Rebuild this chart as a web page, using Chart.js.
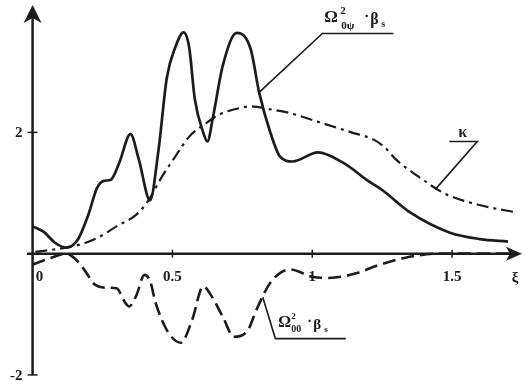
<!DOCTYPE html>
<html>
<head>
<meta charset="utf-8">
<script src="https://cdn.jsdelivr.net/npm/chart.js@4/dist/chart.umd.min.js"></script>
<style>
  body { margin: 0; background: #fff; }
  #wrap { width: 525px; height: 381px; }
</style>
</head>
<body>
<div id="wrap"><canvas id="plot"></canvas></div>
<script>
// solid curve: Omega^2_0psi * beta_s
var xiPsi = [0, 0.04, 0.08, 0.12, 0.16, 0.2, 0.23, 0.255, 0.28, 0.31, 0.35, 0.38, 0.42, 0.45, 0.48, 0.51, 0.54, 0.56, 0.58, 0.61, 0.625, 0.645, 0.68, 0.73, 0.78, 0.81, 0.85, 0.885, 0.93, 1.02, 1.11, 1.2, 1.25, 1.35, 1.49, 1.6, 1.7];
var omegaPsi = [0.45, 0.36, 0.18, 0.1, 0.22, 0.65, 1.08, 1.2, 1.22, 1.5, 1.97, 1.55, 0.88, 1.7, 2.9, 3.4, 3.65, 3.4, 2.55, 2.0, 1.85, 2.25, 3.1, 3.64, 3.37, 2.66, 2.0, 1.6, 1.52, 1.67, 1.5, 1.2, 1.05, 0.68, 0.35, 0.24, 0.2];

// dash-dot curve: kappa
var xiKappa = [0.01, 0.12, 0.19, 0.24, 0.3, 0.37, 0.41, 0.46, 0.51, 0.56, 0.62, 0.67, 0.74, 0.78, 0.85, 0.91, 1.03, 1.14, 1.22, 1.26, 1.3, 1.38, 1.47, 1.59, 1.73];
var kappa = [0.03, 0.1, 0.18, 0.28, 0.45, 0.64, 0.85, 1.25, 1.6, 1.93, 2.15, 2.3, 2.4, 2.43, 2.38, 2.33, 2.16, 2.0, 1.88, 1.75, 1.55, 1.27, 1.0, 0.81, 0.68];

// dashed curve: Omega^2_00 * beta_s
var xiZero = [0, 0.06, 0.12, 0.16, 0.19, 0.22, 0.26, 0.3, 0.33, 0.345, 0.37, 0.4, 0.42, 0.44, 0.48, 0.53, 0.57, 0.61, 0.64, 0.68, 0.72, 0.77, 0.8, 0.85, 0.92, 1.0, 1.06, 1.16, 1.23, 1.33, 1.45, 1.72];
var omegaZero = [-0.18, -0.08, 0.0, -0.12, -0.3, -0.5, -0.56, -0.57, -0.8, -0.87, -0.7, -0.35, -0.45, -0.81, -1.26, -1.47, -1.1, -0.54, -0.7, -1.04, -1.37, -1.26, -0.93, -0.48, -0.26, -0.38, -0.4, -0.32, -0.2, -0.07, 0.0, 0.0];

var xTicks = [0, 0.5, 1, 1.5];
var xTickLabels = ['0', '0.5', '1', '1.5'];
var yTicks = [2, -2];
var yTickLabels = ['2', '-2'];

var ink = '#1c1c1c';

function pts(xs, ys) {
    return xs.map(function (x, i) { return { x: x, y: ys[i] }; });
}

function drawPieces(ctx, x, y, pieces) {
    // pieces: [text, size, dx, dy]
    pieces.forEach(function (p) {
        ctx.font = 'bold ' + p[1] + 'px "Liberation Serif", serif';
        ctx.fillText(p[0], x + p[2], y + p[3]);
    });
}

var axesPlugin = {
    id: 'axesPlugin',
    beforeDatasetsDraw: function (chart) {
        var ctx = chart.ctx;
        var xs = chart.scales.x, ys = chart.scales.y;
        var x0 = xs.getPixelForValue(0), y0 = ys.getPixelForValue(0);
        var xEnd = xs.getPixelForValue(1.75);
        var yTop = ys.getPixelForValue(4.1);
        ctx.save();
        ctx.strokeStyle = ink;
        ctx.fillStyle = ink;
        ctx.lineWidth = 2.5;
        // x axis
        ctx.beginPath();
        ctx.moveTo(xs.getPixelForValue(-0.02), y0);
        ctx.lineTo(xEnd - 6, y0);
        ctx.stroke();
        ctx.beginPath();
        ctx.moveTo(xEnd, y0);
        ctx.lineTo(xEnd - 16, y0 - 7);
        ctx.lineTo(xEnd - 12, y0);
        ctx.lineTo(xEnd - 16, y0 + 7);
        ctx.closePath();
        ctx.fill();
        // y axis
        ctx.beginPath();
        ctx.moveTo(x0, ys.getPixelForValue(-2));
        ctx.lineTo(x0, yTop + 8);
        ctx.stroke();
        ctx.beginPath();
        ctx.moveTo(x0, yTop);
        ctx.lineTo(x0 - 9, yTop + 18);
        ctx.lineTo(x0, yTop + 13);
        ctx.lineTo(x0 + 9, yTop + 18);
        ctx.closePath();
        ctx.fill();
        // ticks
        ctx.lineWidth = 1.5;
        xTicks.forEach(function (v) {
            if (v === 0) return;
            var px = xs.getPixelForValue(v);
            ctx.beginPath();
            ctx.moveTo(px, y0 - 4);
            ctx.lineTo(px, y0 + 4);
            ctx.stroke();
        });
        yTicks.forEach(function (v) {
            var py = ys.getPixelForValue(v);
            ctx.beginPath();
            ctx.moveTo(x0 - 5, py);
            ctx.lineTo(x0 + 5, py);
            ctx.stroke();
        });
        // tick labels
        ctx.font = 'bold 15px "Liberation Serif", serif';
        ctx.textBaseline = 'middle';
        ctx.textAlign = 'center';
        xTicks.forEach(function (v, i) {
            var px = xs.getPixelForValue(v);
            if (v === 0) px += 7;
            ctx.fillText(xTickLabels[i], px, y0 + 23);
        });
        ctx.fillText('\u03BE', xEnd - 7, y0 + 24);
        ctx.textAlign = 'right';
        yTicks.forEach(function (v, i) {
            ctx.fillText(yTickLabels[i], x0 - 10, ys.getPixelForValue(v) + 1);
        });
        ctx.restore();
    },
    afterDatasetsDraw: function (chart) {
        var ctx = chart.ctx;
        var xs = chart.scales.x, ys = chart.scales.y;
        function P(x, y) { return [xs.getPixelForValue(x), ys.getPixelForValue(y)]; }
        ctx.save();
        ctx.strokeStyle = ink;
        ctx.fillStyle = ink;
        ctx.lineWidth = 1.6;
        ctx.textBaseline = 'alphabetic';
        ctx.textAlign = 'left';

        // leader for Omega^2_0psi
        var a = P(0.81, 2.66), b = P(1.036, 3.63), c = P(1.29, 3.63);
        ctx.beginPath();
        ctx.moveTo(a[0], a[1]); ctx.lineTo(b[0], b[1]); ctx.lineTo(c[0], c[1]);
        ctx.stroke();
        drawPieces(ctx, b[0] + 2, b[1] - 12, [
            ['\u03A9', 17, 0, 0], ['2', 11, 16, -8], ['0\u03C8', 11, 17, 7],
            ['\u00B7', 15, 40, -1], ['\u03B2', 16, 46, 2], ['s', 10, 57, 5]
        ]);

        // leader for kappa
        var k1 = P(1.44, 1.06), k2 = P(1.59, 1.85), k3 = P(1.49, 1.85);
        ctx.beginPath();
        ctx.moveTo(k1[0], k1[1]); ctx.lineTo(k2[0], k2[1]); ctx.lineTo(k3[0], k3[1]);
        ctx.stroke();
        ctx.font = 'bold 16px "Liberation Serif", serif';
        ctx.fillText('\u03BA', k3[0] + 9, k3[1] - 4);

        // leader for Omega^2_00
        var d = P(0.823, -0.72), e = P(0.868, -1.4), f = P(1.12, -1.4);
        ctx.beginPath();
        ctx.moveTo(d[0], d[1]); ctx.lineTo(e[0], e[1]); ctx.lineTo(f[0], f[1]);
        ctx.stroke();
        drawPieces(ctx, e[0] + 3, e[1] - 12, [
            ['\u03A9', 16, 0, 0], ['2', 9, 13, -8], ['00', 10, 13, 5],
            ['\u00B7', 14, 29, -1], ['\u03B2', 15, 35, 2], ['s', 9, 46, 5]
        ]);
        ctx.restore();
    }
};

new Chart(document.getElementById('plot'), {
    type: 'line',
    data: {
        datasets: [{
            label: 'psi',
            data: pts(xiPsi, omegaPsi),
            borderColor: ink,
            borderWidth: 2.7,
            cubicInterpolationMode: 'monotone'
        }, {
            label: 'kappa',
            data: pts(xiKappa, kappa),
            borderColor: ink,
            borderWidth: 2.2,
            borderDash: [12, 5, 3, 5],
            cubicInterpolationMode: 'monotone'
        }, {
            label: 'zero',
            data: pts(xiZero, omegaZero),
            borderColor: ink,
            borderWidth: 2.6,
            borderDash: [13, 6],
            cubicInterpolationMode: 'monotone'
        }]
    },
    options: {
        responsive: true,
        maintainAspectRatio: false,
        animation: false,
        layout: { padding: { left: 27, right: 3, top: 5, bottom: 3 } },
        elements: { point: { radius: 0 } },
        plugins: { legend: { display: false }, tooltip: { enabled: false } },
        scales: {
            x: { type: 'linear', min: -0.02, max: 1.75, display: false },
            y: { type: 'linear', min: -2.05, max: 4.1, display: false }
        }
    },
    plugins: [axesPlugin]
});
</script>
</body>
</html>
